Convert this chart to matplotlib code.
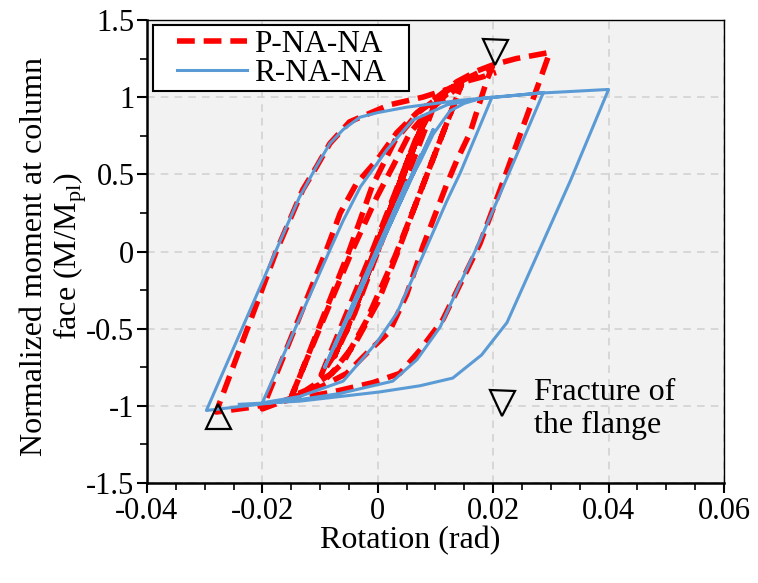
import matplotlib
matplotlib.use("Agg")
import matplotlib.pyplot as plt
from matplotlib.patches import Rectangle
import numpy as np

plt.rcParams['font.family'] = ['Liberation Serif', 'DejaVu Serif']
plt.rcParams['mathtext.fontset'] = 'custom'
plt.rcParams['mathtext.rm'] = 'Liberation Serif'
plt.rcParams['axes.unicode_minus'] = False

# P-NA-NA (red dashed) - rotation (rad) / normalized moment
p_rot = [0.0, 0.004, -0.004, 0.004, -0.004, 0.0055, -0.0055, 0.0055, -0.0055,
         0.0075, -0.0075, 0.0075, -0.0075,
         0.0075, 0.0098,
         0.0085, 0.004, 0.0, -0.004, -0.007, -0.0098,
         -0.001, 0.003, 0.0065, 0.0098,
         0.012, 0.0145,
         0.007, 0.0035, 0.0, -0.004, -0.008, -0.0125, -0.015,
         -0.0045, -0.0002, 0.0026, 0.0056, 0.009, 0.0145,
         0.0065, 0.003, -0.002, -0.006, -0.010, -0.015,
         -0.005, -0.001, 0.003, 0.007, 0.012, 0.0143, 0.0175, 0.0198,
         0.019, 0.016, 0.0137, 0.012, 0.0078, 0.005, 0.002, -0.0014, -0.0054,
         -0.010, -0.0136, -0.020,
         -0.009, -0.0065, -0.0037, -0.0002, 0.0033, 0.0068, 0.0096, 0.0137,
         0.0172, 0.020, 0.024, 0.0298,
         0.028, 0.0212, 0.0177, 0.0113, 0.0073, 0.0038, -0.0009, -0.0078,
         -0.015, -0.022, -0.028,
         -0.0176, -0.013, -0.0106, -0.0083, -0.0049, 0.002, 0.0078, 0.012,
         0.015, 0.018, 0.0205]
p_mom = [0.0, 0.45, -0.38, 0.45, -0.38, 0.62, -0.52, 0.62, -0.52,
         0.80, -0.68, 0.80, -0.68,
         0.80, 0.95,
         0.82, 0.38, 0.0, -0.40, -0.64, -0.80,
         0.0, 0.38, 0.72, 0.95,
         1.02, 1.08,
         0.35, 0.0, -0.33, -0.60, -0.79, -0.90, -0.94,
         0.0, 0.35, 0.55, 0.77, 0.92, 1.08,
         0.30, -0.03, -0.45, -0.72, -0.86, -0.95,
         0.0, 0.42, 0.72, 0.90, 1.04, 1.10, 1.16, 1.19,
         1.12, 0.77, 0.59, 0.44, 0.03, -0.28, -0.52, -0.64, -0.79,
         -0.88, -0.93, -1.02,
         0.0, 0.25, 0.44, 0.59, 0.77, 0.90, 0.98, 1.10,
         1.17, 1.21, 1.25, 1.29,
         1.10, 0.40, 0.05, -0.44, -0.64, -0.79, -0.85, -0.91,
         -0.96, -1.01, -1.04,
         0.0, 0.40, 0.55, 0.70, 0.84, 0.95, 1.00, 1.05,
         1.10, 1.13, 1.16]

# R-NA-NA (blue solid)
r_rot = [0.0, 0.00375, -0.00375, 0.00375, -0.00375, 0.00375, -0.00375,
         0.005, -0.005, 0.005, -0.005,
         0.0075, -0.0075, 0.0075, -0.0075,
         0.0096, -0.0092, 0.0096, -0.0092,
         0.0, 0.004, 0.0073, 0.0096, 0.0125, 0.015, 0.0177, 0.0198,
         0.0143, 0.012, 0.0073, 0.0033, -0.0002, -0.006, -0.0136, -0.020,
         -0.0083, -0.006, -0.003, 0.0016, 0.006, 0.012, 0.0177, 0.0235, 0.0287,
         0.0207, 0.0177, 0.0108, 0.0068, 0.0026, -0.0066, -0.0136, -0.0297,
         -0.0176, -0.0136, -0.0105, -0.0083, -0.006, -0.0031, 0.0, 0.005,
         0.0143, 0.020, 0.028, 0.040,
         0.0334, 0.0224, 0.018, 0.013, 0.0073, 0.0003, -0.0136, -0.024]
r_mom = [0.0, 0.33, -0.31, 0.34, -0.32, 0.32, -0.30,
         0.44, -0.43, 0.45, -0.42,
         0.62, -0.62, 0.63, -0.61,
         0.78, -0.75, 0.79, -0.75,
         0.03, 0.36, 0.58, 0.76, 0.91, 0.96, 0.99, 1.00,
         0.51, 0.33, -0.07, -0.40, -0.59, -0.84, -0.94, -0.98,
         0.01, 0.20, 0.42, 0.66, 0.85, 0.95, 0.99, 1.01, 1.03,
         0.33, 0.07, -0.49, -0.70, -0.84, -0.92, -0.96, -1.03,
         0.01, 0.35, 0.56, 0.70, 0.79, 0.87, 0.90, 0.935,
         0.98, 1.00, 1.026, 1.05,
         0.46, -0.46, -0.67, -0.82, -0.87, -0.91, -0.97, -0.99]

# fracture markers
frac_up = (-0.0277, -1.065)
frac_dn = (0.0203, 1.29)
key_mark = (0.0216, -0.98)

fig = plt.figure(figsize=(7.58, 5.83), dpi=100)
ax = fig.add_axes([0.1939, 0.1715, 0.7612, 0.7942])
ax.set_facecolor('#F2F2F2')

ax.plot(p_rot, p_mom, color='#FF0000', lw=4, dashes=(3.2, 1.6),
        label='P-NA-NA', zorder=3)
ax.plot(r_rot, r_mom, color='#5B9BD5', lw=2.2, label='R-NA-NA', zorder=4)

ax.plot(*frac_dn, marker='v', ms=18, mfc='none', mec='k', mew=1.6, zorder=5)
ax.plot(*frac_up, marker='^', ms=18, mfc='none', mec='k', mew=1.6, zorder=5)
ax.plot(*key_mark, marker='v', ms=18, mfc='none', mec='k', mew=1.6, zorder=5)
ax.text(0.027, -1.02, 'Fracture of\nthe flange', fontsize=23, va='center',
        ha='left', linespacing=1.2)

ax.set_xlim(-0.04, 0.06)
ax.set_ylim(-1.5, 1.5)
ax.set_xticks([-0.04, -0.02, 0, 0.02, 0.04, 0.06])
ax.set_xticklabels(['-0.04', '-0.02', '0', '0.02', '0.04', '0.06'])
ax.set_yticks([-1.5, -1, -0.5, 0, 0.5, 1, 1.5])
ax.set_yticklabels(['-1.5', '-1', '-0.5', '0', '0.5', '1', '1.5'])
ax.set_xticks(np.arange(-0.04, 0.0601, 0.005), minor=True)
ax.set_yticks(np.arange(-1.5, 1.51, 0.25), minor=True)
ax.tick_params(which='major', direction='out', length=7, width=1.5,
               labelsize=22, colors='k')
ax.tick_params(axis='x', which='major', pad=3)
ax.tick_params(axis='y', which='major', pad=2)
ax.tick_params(which='minor', direction='out', length=5, width=1.2)
ax.grid(True, which='major', color='#D0D0D0', linestyle=(0, (5, 4)), lw=1.1)
ax.set_axisbelow(True)
for s in ax.spines.values():
    s.set_color('k')
    s.set_linewidth(1.0)
ax.spines['left'].set_linewidth(1.8)
ax.spines['bottom'].set_linewidth(1.8)

ax.set_xlabel('Rotation (rad)', fontsize=23)
ax.xaxis.set_label_coords(0.456, -0.092)
ax.set_ylabel('Normalized moment at column\nface (M/M$_\\mathregular{pl}$)',
              fontsize=23, linespacing=1.1)
ax.yaxis.set_label_coords(-0.1, 0.49)

# legend: white box drawn separately (wide side padding as in the reference)
box = Rectangle((153 / 758, 1 - 91 / 583), 256 / 758, 66 / 583,
                transform=fig.transFigure, facecolor='white', edgecolor='k',
                lw=1.5, zorder=6)
ax.add_patch(box)
leg = ax.legend(loc='upper left', bbox_to_anchor=(174 / 758, 1 - 27 / 583),
                bbox_transform=fig.transFigure, fontsize=22.5,
                handlelength=2.25, borderaxespad=0, borderpad=0.1,
                labelspacing=0.0, handletextpad=0.2, frameon=False)
leg.set_zorder(7)

fig.savefig('out.png', dpi=100)
